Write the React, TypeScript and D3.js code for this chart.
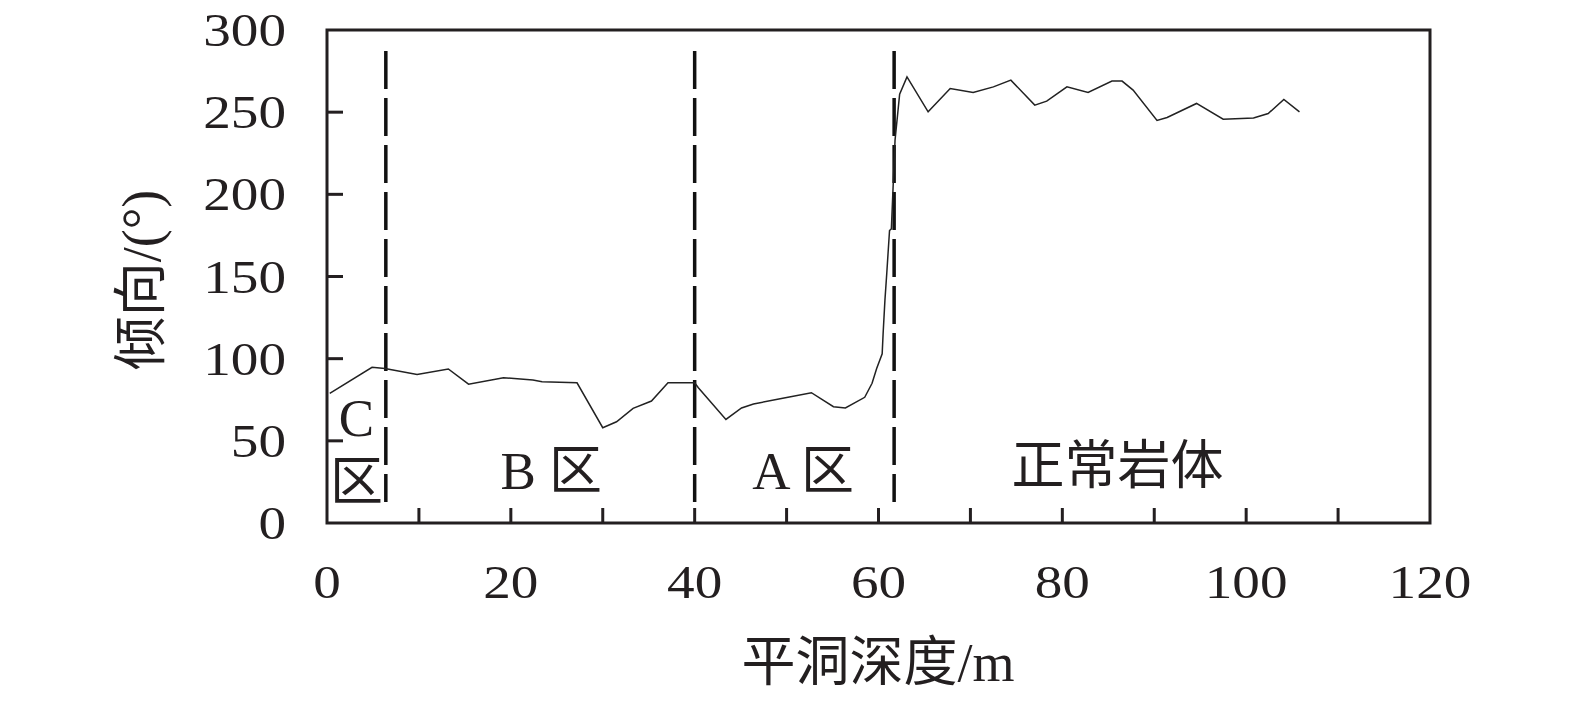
import React from "react";
import * as d3 from "d3";

const depth = [0.3, 4.9, 6.3, 9.8, 13.2, 15.4, 19.2, 22.4, 23.4, 27.2, 30.0, 31.5, 33.3, 35.3, 37.1, 40.0, 40.4, 43.4, 45.1, 46.4, 49.3, 52.7, 55.1, 56.4, 58.5, 59.3, 59.8, 60.4, 60.5, 60.7, 60.9, 61.2, 61.4, 61.8, 62.3, 63.1, 65.4, 67.8, 70.3, 72.5, 74.4, 77.0, 78.3, 80.5, 82.8, 85.4, 86.5, 87.7, 90.3, 91.4, 94.6, 97.5, 100.8, 102.4, 104.1, 105.8];
const dip = [78.9, 94.7, 94, 90.4, 93.7, 84.5, 88.4, 87, 86, 85.3, 58, 61.6, 69.8, 74.2, 85.3, 85.3, 82.3, 63, 70, 72.4, 75.6, 79.3, 70.8, 70, 76.5, 85, 94, 103, 115, 135.6, 152, 178, 179, 233, 261, 271.5, 250.2, 264.4, 262, 265.4, 269.5, 254.3, 256.7, 265.4, 262, 268.9, 268.9, 263.4, 245, 246.8, 255.3, 245.7, 246.5, 249.2, 257.7, 250.2];
const xTickLabels = [0, 20, 40, 60, 80, 100, 120];
const xMinorTicks = [10, 20, 30, 40, 50, 60, 70, 80, 90, 100, 110];
const yTickLabels = [0, 50, 100, 150, 200, 250, 300];
const zoneBounds = [6.4, 40, 61.7];
const zoneLabels = [
  { text: "C", x: 3.2, y: 64 },
  { text: "区", x: 3.2, y: 25 },
  { text: "B 区", x: 24.4, y: 32 },
  { text: "A 区", x: 51.8, y: 32 },
  { text: "正常岩体", x: 86.0, y: 35 },
];

const L = 327, R = 1430, T = 30, B = 523;
const serif = "'Liberation Serif', 'Times New Roman', serif";
const cjk = "'Noto Sans CJK SC', sans-serif";
const SX = 1.2;

export default function App() {
  const x = d3.scaleLinear().domain([0, 120]).range([L, R]);
  const y = d3.scaleLinear().domain([0, 300]).range([B, T]);
  const line = d3.line<number>().x((_, i) => x(depth[i])).y((d) => y(d));
  return (
    <svg width={1575} height={705} style={{ position: "fixed", left: 0, top: 0, background: "#fff" }}>
      <rect x={0} y={0} width={1575} height={705} fill="#fff" />
      {yTickLabels.slice(1, -1).map((v) => (
        <line key={"yt" + v} x1={L} x2={L + 16} y1={y(v)} y2={y(v)} stroke="#231f20" strokeWidth={3} />
      ))}
      {xMinorTicks.map((v) => (
        <line key={"xt" + v} x1={x(v)} x2={x(v)} y1={B} y2={B - 15} stroke="#231f20" strokeWidth={3} />
      ))}
      {zoneBounds.map((v) => (
        <line key={"zb" + v} x1={x(v)} x2={x(v)} y1={51} y2={502} stroke="#111" strokeWidth={3.5} strokeDasharray="38 9" />
      ))}
      <path d={line(dip) || ""} fill="none" stroke="#222" strokeWidth={1.5} />
      <rect x={L} y={T} width={R - L} height={B - T} fill="none" stroke="#231f20" strokeWidth={3} />
      {yTickLabels.map((v) => (
        <text key={"yl" + v} transform={`translate(286,${y(v)}) scale(${SX},1)`} dy="0.35em" textAnchor="end" fontFamily={serif} fontSize={46} fill="#231f20">{v}</text>
      ))}
      {xTickLabels.map((v) => (
        <text key={"xl" + v} transform={`translate(${x(v)},582) scale(${SX},1)`} dy="0.35em" textAnchor="middle" fontFamily={serif} fontSize={46} fill="#231f20">{v}</text>
      ))}
      {zoneLabels.map((z) => (
        <text key={z.text} x={x(z.x)} y={y(z.y)} dy="0.35em" textAnchor="middle" fontFamily={`${serif}, ${cjk}`} fontSize={53} fill="#231f20">{z.text}</text>
      ))}
      <text x={878} y={662} dy="0.35em" textAnchor="middle" fontFamily={`${serif}, ${cjk}`} fontSize={54} fill="#231f20">平洞深度/m</text>
      <text transform="translate(141,280) rotate(-90)" dy="0.35em" textAnchor="middle" fontFamily={`${serif}, ${cjk}`} fontSize={54} fill="#231f20">倾向/(°)</text>
    </svg>
  );
}
